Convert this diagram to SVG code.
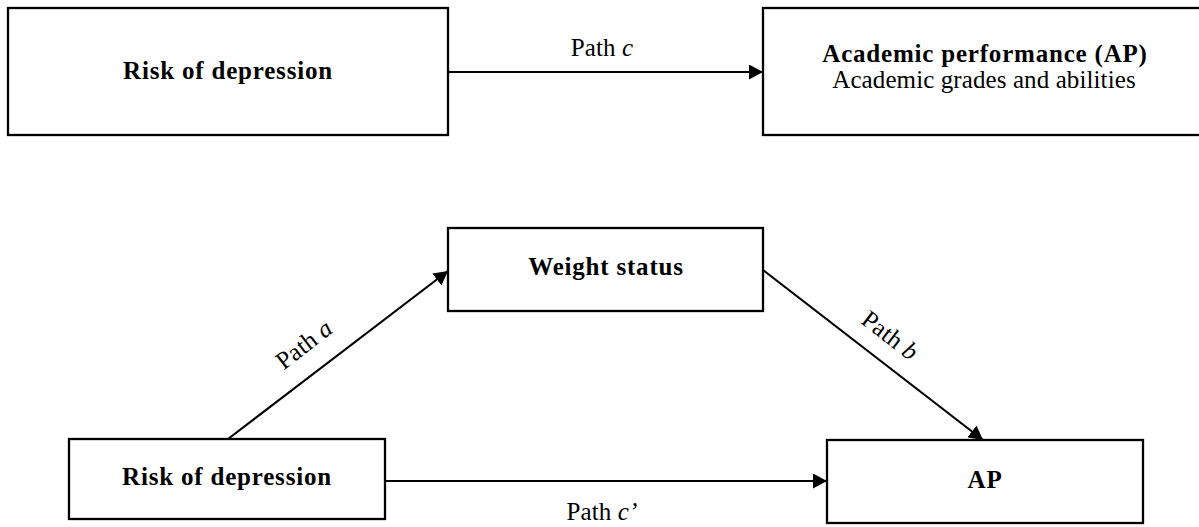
<svg xmlns="http://www.w3.org/2000/svg" width="1199" height="527" viewBox="0 0 1199 527">
<defs>
<marker id="arr" markerUnits="userSpaceOnUse" markerWidth="15" markerHeight="15" refX="14" refY="7.5" orient="auto">
<path d="M0,0 L14,7.5 L0,15 z" fill="#000"/>
</marker>
<style>
.box{fill:#fff;stroke:#000;stroke-width:2.3}
.edge{fill:none;stroke:#000;stroke-width:2.2;marker-end:url(#arr)}
text{font-family:"Liberation Serif","Times New Roman",serif;font-size:25px;fill:#000;text-anchor:middle}
.b{font-weight:bold;letter-spacing:0.8px}
.r{letter-spacing:0.1px}
</style>
</defs>
<rect width="1199" height="527" fill="#fff"/>
<g id="connectors">
<line class="edge" x1="448" y1="72" x2="763" y2="72"/>
<line class="edge" x1="228" y1="439" x2="448" y2="271"/>
<line class="edge" x1="763" y1="270" x2="983" y2="440"/>
<line class="edge" x1="385" y1="481" x2="827" y2="481"/>
<text class="r" x="602" y="56">Path <tspan font-style="italic">c</tspan></text>
<text class="r" transform="translate(309,351) rotate(-37.5)">Path <tspan font-style="italic">a</tspan></text>
<text class="r" transform="translate(885,342) rotate(37.5)">Path <tspan font-style="italic">b</tspan></text>
<text class="r" x="602" y="520">Path <tspan font-style="italic">c’</tspan></text>
</g>
<g id="risk-top">
<rect class="box" x="8" y="8" width="440" height="127"/>
<text class="b" x="228" y="79">Risk of depression</text>
</g>
<g id="ap-top">
<rect class="box" x="763" y="8" width="440" height="127"/>
<text class="b" x="985" y="62">Academic performance (AP)</text>
<text class="r" x="984" y="88">Academic grades and abilities</text>
</g>
<g id="weight">
<rect class="box" x="448" y="228" width="315" height="83"/>
<text class="b" x="606" y="275">Weight status</text>
</g>
<g id="risk-bottom">
<rect class="box" x="69" y="439" width="316" height="80"/>
<text class="b" x="227" y="485">Risk of depression</text>
</g>
<g id="ap-bottom">
<rect class="box" x="827" y="440" width="316" height="83"/>
<text class="b" x="985" y="488">AP</text>
</g>
</svg>
